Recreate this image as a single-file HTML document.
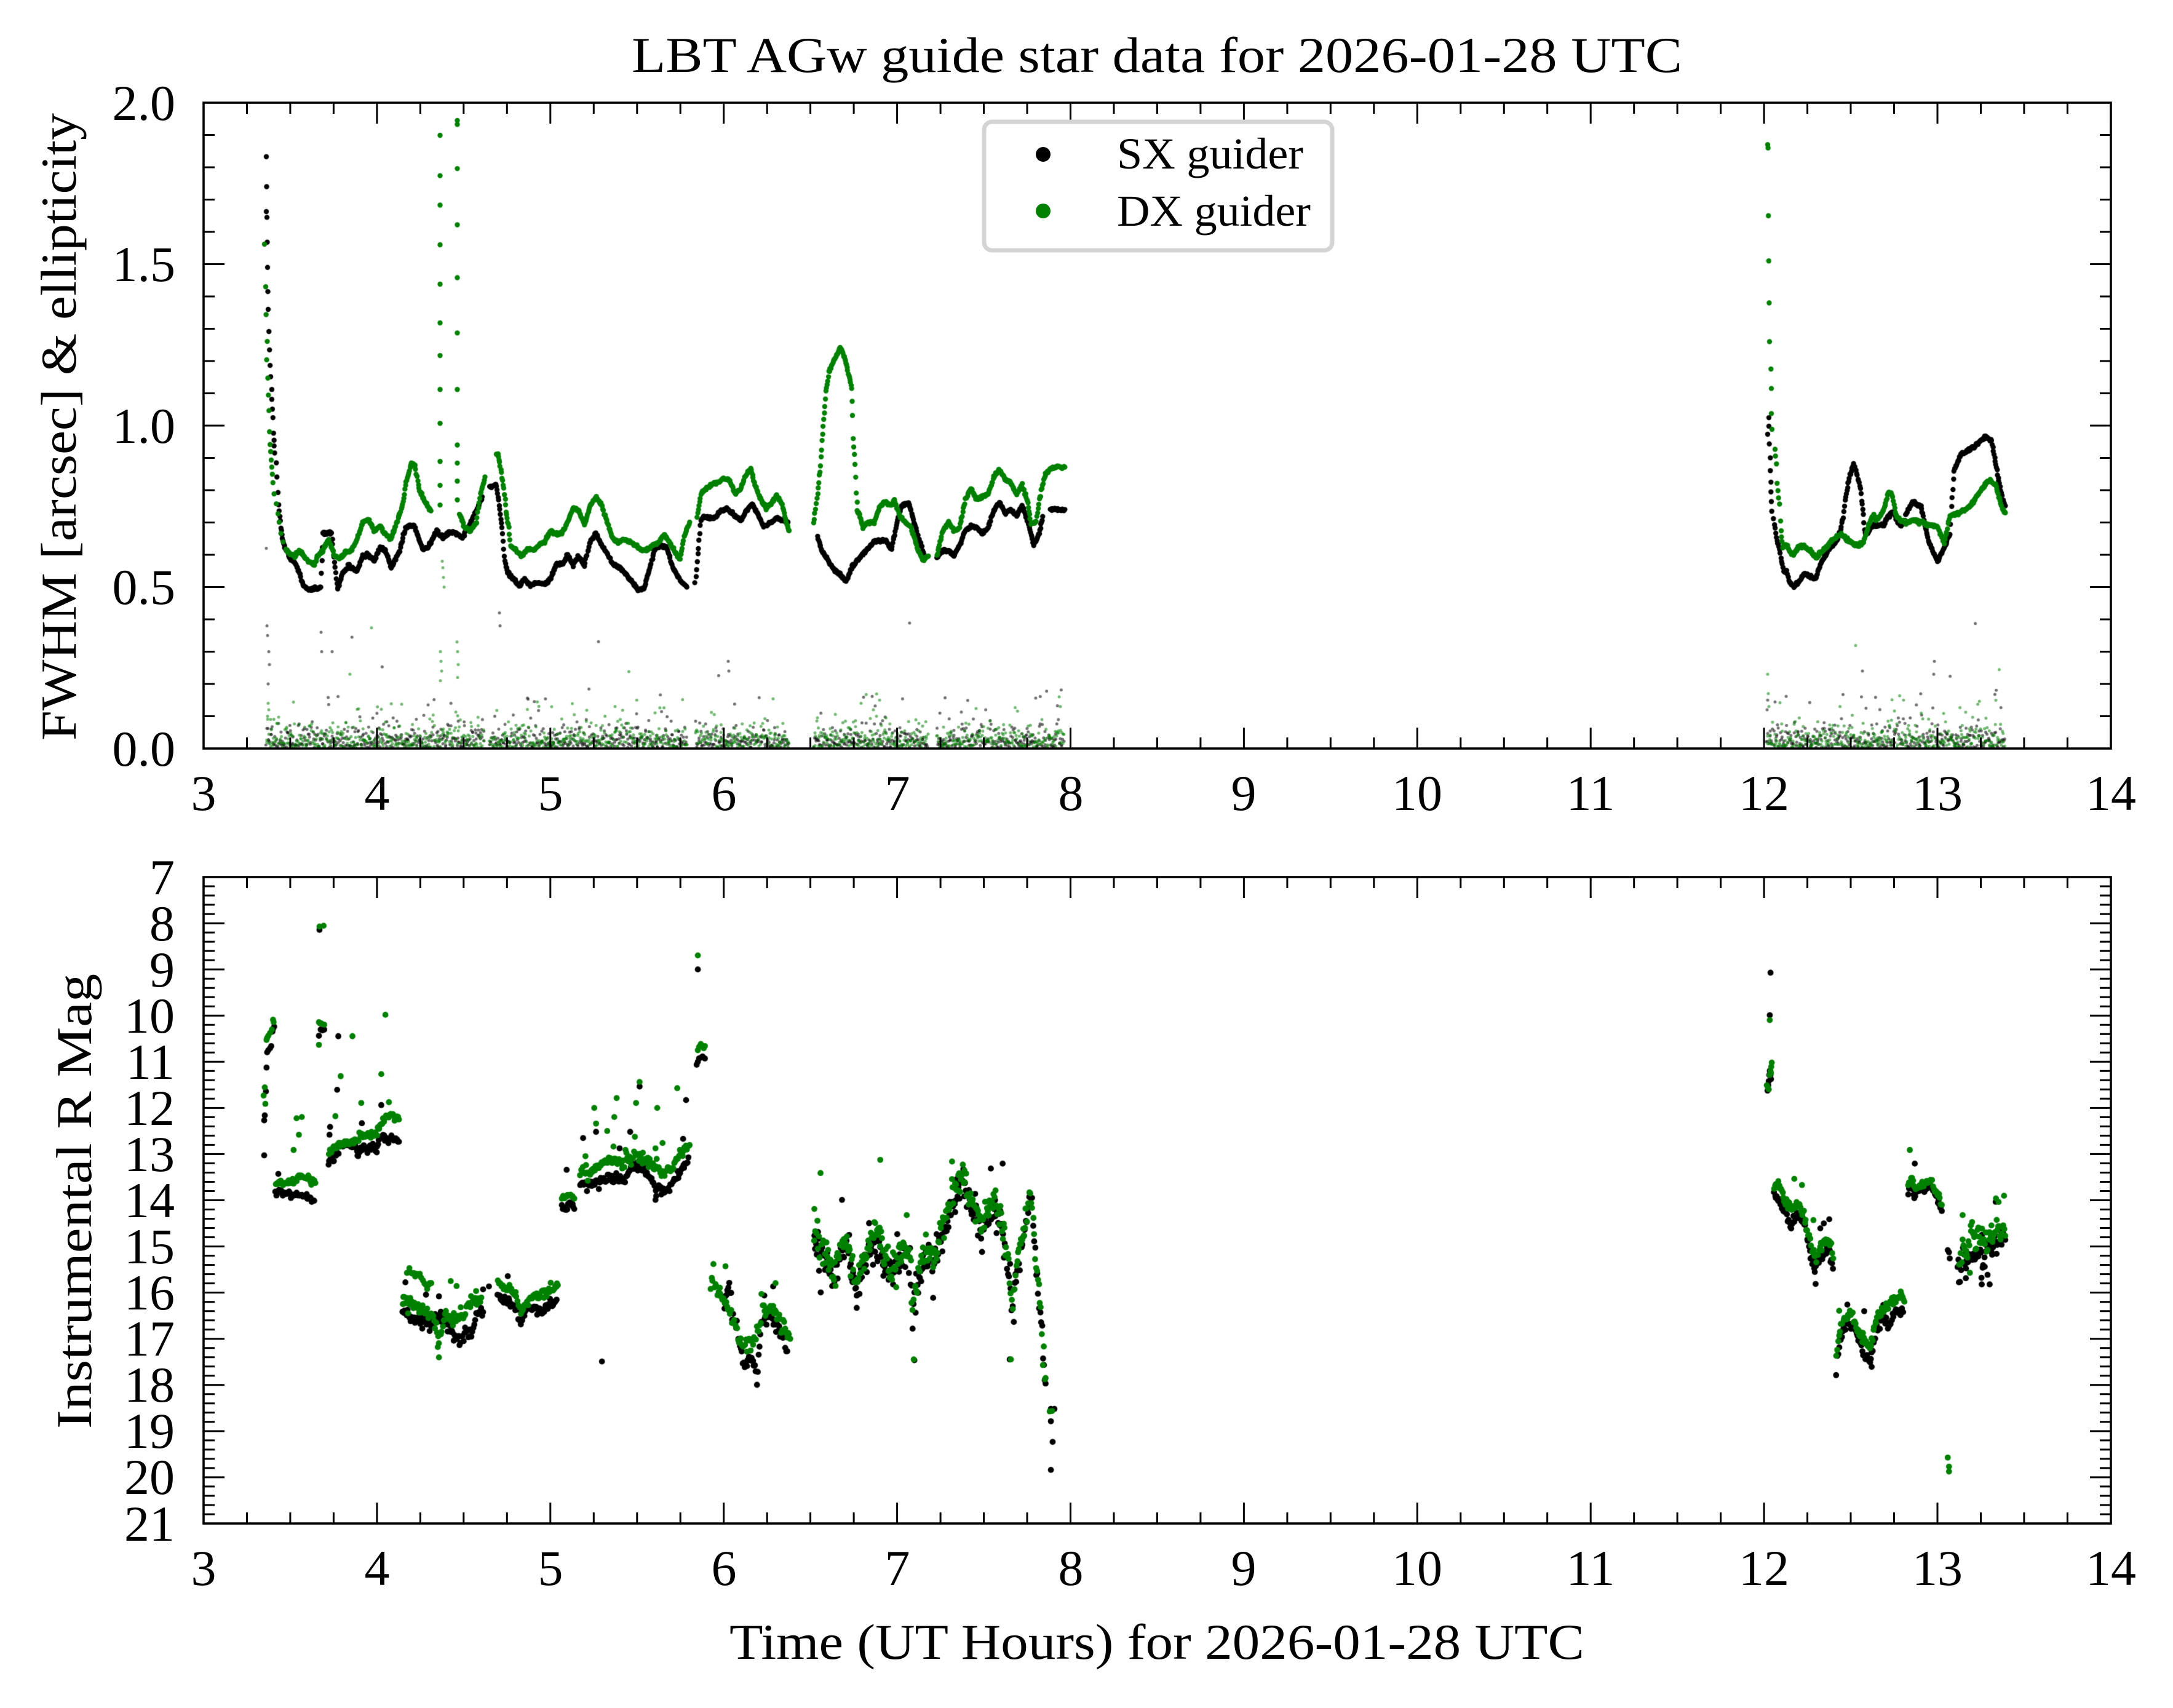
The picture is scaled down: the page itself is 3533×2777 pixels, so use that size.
<!DOCTYPE html>
<html><head><meta charset="utf-8">
<style>
html,body{margin:0;padding:0;background:#fff;}
#wrap{position:relative;width:3533px;height:2777px;overflow:hidden;background:#fff;}
#c,#s{position:absolute;left:0;top:0;}
text{font-family:"Liberation Serif","DejaVu Serif",serif;fill:#000;}
</style></head><body>
<div id="wrap">
<canvas id="c" width="3533" height="2777"></canvas>
<svg id="s" width="3533" height="2777" viewBox="0 0 3533 2777" xmlns="http://www.w3.org/2000/svg">
<rect x="331" y="167" width="3101" height="1050" fill="none" stroke="#000" stroke-width="3.6"/>
<rect x="331" y="1426" width="3101" height="1051" fill="none" stroke="#000" stroke-width="3.6"/>
<path id="tk" d="" stroke="#000" stroke-width="3" fill="none"/>
<text x="1881" y="117" font-size="82" text-anchor="middle" textLength="1708" lengthAdjust="spacingAndGlyphs">LBT AGw guide star data for 2026-01-28 UTC</text>
<g font-size="82" text-anchor="middle">
<text x="331" y="1317">3</text><text x="613" y="1317">4</text><text x="895" y="1317">5</text><text x="1177" y="1317">6</text><text x="1459" y="1317">7</text><text x="1741" y="1317">8</text><text x="2022" y="1317">9</text><text x="2304" y="1317">10</text><text x="2586" y="1317">11</text><text x="2868" y="1317">12</text><text x="3150" y="1317">13</text><text x="3432" y="1317">14</text>
<text x="331" y="2577">3</text><text x="613" y="2577">4</text><text x="895" y="2577">5</text><text x="1177" y="2577">6</text><text x="1459" y="2577">7</text><text x="1741" y="2577">8</text><text x="2022" y="2577">9</text><text x="2304" y="2577">10</text><text x="2586" y="2577">11</text><text x="2868" y="2577">12</text><text x="3150" y="2577">13</text><text x="3432" y="2577">14</text>
</g>
<g font-size="82" text-anchor="end">
<text x="285" y="1245">0.0</text><text x="285" y="982">0.5</text><text x="285" y="720">1.0</text><text x="285" y="457">1.5</text><text x="285" y="195">2.0</text>
<text x="284" y="1454">7</text><text x="284" y="1529">8</text><text x="284" y="1604">9</text><text x="284" y="1679">10</text><text x="284" y="1754">11</text><text x="284" y="1829">12</text><text x="284" y="1904">13</text><text x="284" y="1979">14</text><text x="284" y="2054">15</text><text x="284" y="2129">16</text><text x="284" y="2204">17</text><text x="284" y="2279">18</text><text x="284" y="2354">19</text><text x="284" y="2429">20</text><text x="284" y="2505">21</text>
</g>
<text font-size="82" text-anchor="middle" transform="translate(123,694) rotate(-90)" textLength="1020" lengthAdjust="spacingAndGlyphs">FWHM [arcsec] &amp; ellipticity</text>
<text font-size="82" text-anchor="middle" transform="translate(148,1953) rotate(-90)" textLength="740" lengthAdjust="spacingAndGlyphs">Instrumental R Mag</text>
<text x="1881" y="2697" font-size="82" text-anchor="middle" textLength="1390" lengthAdjust="spacingAndGlyphs">Time (UT Hours) for 2026-01-28 UTC</text>
<rect x="1600" y="198" width="566" height="209" rx="13" ry="13" fill="#fff" fill-opacity="0.85" stroke="#d4d4d4" stroke-width="7"/>
<circle cx="1696" cy="251" r="12" fill="#000"/>
<circle cx="1696" cy="343" r="12" fill="#008000"/>
<text x="1816" y="274" font-size="72" textLength="303" lengthAdjust="spacingAndGlyphs">SX guider</text>
<text x="1816" y="367" font-size="72" textLength="315" lengthAdjust="spacingAndGlyphs">DX guider</text>
</svg>
</div>
<script>
(function(){
var cv=document.getElementById('c'),ctx=cv.getContext('2d');
var sd=20260128;
function R(){sd|=0;sd=sd+0x6D2B79F5|0;var t=Math.imul(sd^sd>>>15,1|sd);t=t+Math.imul(t^t>>>7,61|t)^t;return((t^t>>>14)>>>0)/4294967296;}
function G(){var u=R()||1e-9,v=R();return Math.sqrt(-2*Math.log(u))*Math.cos(6.283185*v);}
function z7(p){return [331+p[0]*0.9243,500+p[1]*0.4592];}
function z8(p){return [2650+p[0]/3,600+p[1]/2.529];}
function z9(p){return [331+p[0]/1.0453,1426+p[1]*0.6703];}
function z10(p){return [2800+p[0]/2.481,1426+p[1]*0.6703];}
function dd(p){return [p[0]*2.2532,p[1]*2.2532];}
function ln(arr,f,step,sig,list,off,tail){off=off||0;var P=arr.map(f);for(var i=0;i<P.length-1;i++){var a=P[i],b=P[i+1];var dx=b[0]-a[0];var n=Math.max(1,Math.round(Math.abs(dx)/step));for(var j=0;j<n;j++){var t=j/n;var s=sig;if(tail&&R()<tail)s=sig*2.6;list.push([a[0]+dx*t+G()*0.3,a[1]+(b[1]-a[1])*t+off+G()*s]);}}var e=P[P.length-1];list.push([e[0],e[1]+off]);}
function pp(arr,f,list){arr.forEach(function(p){list.push(f(p));});}
var TB=[],TG=[],EB=[],EG=[],BB=[],BG=[];
// ---- top panel FWHM black
[[433,1.833],[433.5,1.74],[433,1.663],[434,1.645],[434.5,1.568],[435,1.49],[435.5,1.415],[436,1.36]].forEach(function(p){TB.push([p[0],1217-p[1]*525]);});
pp([[115,85],[116,150],[117,205],[118,245],[120,290],[120,325],[121,360],[122,390],[123,445],[124,470],[124,490],[125,515],[128,550],[129,600],[131,655]],z7,TB);
ln([[132,695],[135,760],[140,830],[150,880],[165,920],[175,980],[185,1000],[200,995],[206,990],[210,800],[225,800],[230,900],[235,1000],[245,940],[255,915],[270,935],[280,880],[290,875],[300,900],[310,850],[320,860],[330,920],[345,860],[355,780],[370,770],[385,855],[395,850],[410,790],[420,815],[435,795],[445,800],[455,815],[465,780],[480,720],[490,670]],z7,1,1.2,TB);
ln([[503,635],[515,630],[520,700],[525,780],[530,900],[535,940],[545,960],[555,985],[565,960],[575,985],[585,975],[600,980],[610,960],[620,910],[632,910],[640,875],[650,910],[660,880],[670,915],[680,830],[690,800],[700,840],[710,870],[720,910],[735,925],[745,950],[755,975],[765,1000],[775,995],[785,920],[795,850],[805,845],[815,850],[825,920],[840,970],[850,990]],z7,1,1.2,TB);
ln([[865,975],[875,750],[880,740],[890,745],[900,745],[910,720],[920,710],[930,730],[945,755],[955,720],[965,695],[975,730],[985,775],[995,765],[1010,745],[1020,755],[1028,760]],z7,1,1.2,TB);
ln([[1080,815],[1090,870],[1100,900],[1110,930],[1120,945],[1130,970],[1140,920],[1150,895],[1160,870],[1170,850],[1180,830],[1190,825],[1200,825],[1210,855],[1220,760],[1228,700],[1240,690],[1250,760],[1260,830],[1268,880]],z7,1,1.2,TB);
ln([[1290,885],[1300,860],[1310,860],[1320,880],[1330,840],[1340,790],[1350,775],[1360,780],[1370,800],[1380,780],[1390,720],[1400,690],[1410,730],[1420,715],[1430,740],[1440,700],[1450,760],[1460,840],[1470,800],[1476,740]],z7,1,1.2,TB);
ln([[1490,715],[1515,715]],z7,1,1.0,TB);
pp([[678,200],[678,235],[672,268],[680,308],[685,365],[685,418],[688,465],[688,505],[690,545],[692,585],[700,615]],z8,TB);
ln([[705,635],[712,675],[718,705],[730,740],[740,790],[750,835],[765,825],[775,870],[785,885],[800,895],[815,880],[830,870],[845,845],[860,845],[880,855],[905,860],[920,830],[935,790],[955,765],[970,740],[990,725],[1010,705],[1025,670],[1040,610],[1050,540],[1065,470],[1080,420],[1090,390],[1100,410],[1115,460],[1125,490],[1130,540],[1138,600],[1145,660],[1150,680],[1165,670],[1180,645],[1200,645],[1220,640],[1240,640],[1255,610],[1270,600],[1285,585],[1300,620],[1320,640],[1345,625]],z8,1,1.2,TB);
ln([[1375,372],[1380,362],[1386,365],[1392,392],[1398,405],[1403,395],[1407,385],[1410,340],[1415,328],[1425,322],[1433,315],[1437,318],[1441,340],[1445,360],[1447,365]],dd,1,1.2,TB);
// ---- top panel FWHM green
[[430,1.562],[432,1.43]].forEach(function(p){TG.push([p[0],1217-p[1]*525]);});
pp([[110,25],[112,120],[111,185],[113,250],[114,310],[115,365],[116,440],[117,485],[118,510],[119,540],[120,565],[121,590],[122,620],[124,660],[128,695],[131,730],[133,760],[136,800],[140,830]],z7,TG);
ln([[145,855],[150,870],[160,880],[170,860],[178,885],[185,900],[195,910],[200,880],[210,860],[220,820],[230,880],[240,890],[250,865],[260,860],[270,820],[280,760],[290,750],[300,790],[310,775],[320,800],[330,820],[340,760],[350,700],[355,630],[365,550],[372,560],[380,650],[390,690],[400,720]],z7,1,1.2,TG);
[1.899,1.774,1.683,1.56,1.438,1.318,1.217,1.112,1.007,0.889,0.815,0.754].forEach(function(v){TG.push([715.5,1217-v*525]);});
[1.945,1.933,1.796,1.622,1.458,1.287,1.112,0.94,0.884,0.828,0.77].forEach(function(v){TG.push([743.5,1217-v*525]);});
ln([[450,730],[460,780],[470,790],[480,760],[487,660],[495,600]],z7,1,1.2,TG);
ln([[515,520],[518,520],[522,560],[528,640],[532,720],[537,780],[540,845],[550,860],[560,880],[570,855],[580,860],[590,840],[600,830],[610,790],[620,800],[630,800],[640,760],[650,710],[660,720],[670,770],[680,700],[690,670],[700,700],[710,760],[720,820],[730,830],[740,820],[750,830],[760,840],[770,860],[780,860],[790,840],[800,830],[810,805],[820,830],[830,870],[838,890],[845,810],[855,760]],z7,1,1.2,TG);
ln([[868,740],[875,660],[885,640],[895,625],[905,620],[915,605],[925,610],[935,660],[945,640],[955,590],[962,570],[970,630],[980,680],[990,710],[1000,690],[1008,665],[1018,700],[1025,760],[1030,790]],z7,1,1.2,TG);
ln([[1073,765],[1080,660],[1085,560],[1090,420],[1095,300],[1100,230],[1108,190],[1115,165],[1120,140],[1128,180],[1133,220],[1138,265],[1140,290],[1142,380],[1143,460],[1145,520],[1147,600],[1148,660],[1150,720],[1155,740],[1160,780],[1170,760],[1180,760],[1190,700],[1200,690],[1210,700],[1215,680],[1225,740],[1235,760],[1245,780],[1255,850],[1265,895],[1275,880]],z7,1,1.2,TG);
ln([[1290,880],[1300,790],[1310,760],[1320,790],[1330,780],[1340,680],[1350,640],[1360,680],[1370,670],[1380,660],[1390,600],[1400,570],[1410,610],[1420,620],[1430,660],[1440,630],[1450,690],[1455,765],[1465,760],[1470,680],[1480,590],[1490,570],[1500,565],[1515,565]],z7,1,1.2,TG);
[1.87,1.86,1.65,1.51,1.38,1.26].forEach(function(v,i){TG.push([2874+i*0.6,1217-v*525]);});
pp([[688,0],[690,80],[690,183],[693,248],[708,330],[710,358],[715,390],[718,470],[722,500],[725,530],[730,555],[735,625],[738,665]],z8,TG);
ln([[740,690],[745,730],[765,725],[780,750],[800,765],[815,740],[830,730],[850,730],[870,740],[890,760],[910,780],[925,760],[940,745],[960,730],[980,710],[1000,695],[1025,680],[1040,685],[1060,700],[1080,715],[1100,725],[1120,725],[1140,710],[1155,670],[1170,630],[1190,600],[1200,620],[1215,610],[1230,595],[1245,560],[1260,510],[1275,510],[1285,540],[1295,590],[1310,615],[1330,625],[1345,625]],z8,1,1.2,TG);
ln([[1375,378],[1380,375],[1390,378],[1398,380],[1403,392],[1407,372],[1413,370],[1420,367],[1428,356],[1435,346],[1440,350],[1445,368],[1447,370]],dd,1,1.2,TG);
// ---- ellipticity
function ell(x0,x1,list,m){for(var x=x0;x<x1;x+=1.15){var v=0.003+Math.abs(G())*0.034*m;var r=R();if(r<0.035)v=0.07+R()*0.1;else if(r<0.041)v=0.15+R()*0.25;list.push([x+G()*0.6,1217-v*525]);}}
var rng=[[433,788],[796,1117],[1131,1283],[1323,1509],[1523,1731],[2873,3260]];
rng.forEach(function(r){ell(r[0],r[1],EB,1.0);ell(r[0],r[1],EG,1.05);});
[[436,0.14],[437,0.12],[435,0.1],[440,0.09],[1000,0.13],[1420,0.12],[1430,0.15],[1425,0.1],[1722,0.16],[1724,0.13],[2874,0.23],[2875,0.17],[2876,0.13],[716,0.3],[717,0.27],[718,0.24],[716,0.21],[743,0.33],[744,0.3],[745,0.26],[744,0.22],[720,0.56],[721,0.53],[722,0.5],[719,0.58],[1400,0.14]].forEach(function(p){EG.push([p[0],1217-p[1]*525]);});
[[433,0.62],[434,0.38],[435,0.35],[437,0.3],[438,0.26],[436,0.2],[522,0.36],[523,0.3],[1184,0.27],[1185,0.24],[2874,0.15],[2873,0.12],[3144,0.23],[3145,0.27],[812,0.42],[813,0.38],[540,0.3]].forEach(function(p){EB.push([p[0],1217-p[1]*525]);});
// ---- bottom panel black
pp([[103,675],[103,590],[104,578],[106,520],[107,462],[108,425],[110,420],[113,415],[115,410],[117,375],[120,363],[118,368]],z9,BB);
ln([[122,765],[130,765],[140,768],[150,768],[160,770],[170,772],[180,778],[188,785]],z9,1.5,2.5,BB);BB.push(z9([127,720]));
pp([[197,128],[196,385],[199,370],[202,372],[205,370]],z9,BB);
ln([[212,690],[220,685],[228,670],[235,650],[240,650],[250,650],[258,652],[262,675],[268,660],[280,658],[295,658],[300,628],[310,630],[322,635],[332,642]],z9,1.5,3,BB);
pp([[215,606],[214,625],[227,516],[229,386],[269,597],[302,553]],z9,BB);
ln([[338,1050],[345,1060],[355,1075],[370,1078],[385,1090],[395,1075],[405,1070],[415,1080],[425,1110],[435,1125],[445,1100],[455,1110],[465,1060],[475,1055]],z9,1.5,5,BB,0,0.1);
pp([[343,983],[378,1013],[400,1017],[475,1000],[485,993]],z9,BB);
ln([[500,1010],[510,1030],[520,1030],[530,1040],[540,1085],[548,1050],[555,1040],[565,1050],[575,1060],[585,1040],[600,1025]],z9,1.5,4,BB);
pp([[517,968],[677,1175]],z9,BB);
ln([[609,800],[615,810],[620,790],[630,805]],z9,1.5,3,BB);
ln([[640,742],[650,748],[660,745],[670,740],[680,738],[690,730],[700,732],[710,725],[715,745],[720,720],[730,705],[740,705],[750,712],[755,720],[765,740],[770,760],[775,750],[780,760],[790,755],[800,740],[810,720],[815,700],[824,680]],z9,1.5,4,BB,0,0.08);
pp([[617,710],[645,633],[667,618],[707,658],[725,618],[741,508],[820,541],[815,635],[768,783]],z9,BB);
pp([[840,224],[838,455],[840,448],[842,440],[845,438],[848,435],[852,440]],z9,BB);
ln([[885,1045],[890,1010],[895,1000],[900,1060],[910,1120],[918,1185],[925,1180],[930,1150],[935,1190],[940,1220],[945,1150],[950,1080],[960,1070],[970,1080],[975,1090],[985,1120],[992,1150]],z9,1.5,6,BB,0,0.1);
pp([[968,993],[953,1015]],z9,BB);
var K=[[1038,860],[1050,900],[1060,920],[1070,960],[1080,900],[1090,880],[1100,920],[1110,990],[1120,930],[1130,900],[1140,860],[1150,880],[1160,930],[1170,960],[1180,920],[1190,890],[1200,920],[1205,1060],[1210,1000],[1220,940],[1230,900],[1240,930],[1250,880],[1260,830],[1270,790],[1280,740],[1290,725],[1300,760],[1310,810],[1320,840],[1330,820],[1340,780],[1350,820],[1360,860],[1370,960],[1375,1060],[1380,960],[1390,880],[1400,800],[1405,760],[1410,820],[1415,950],[1420,1020],[1425,1100],[1428,1180],[1431,1215]];
ln(K,z9,1.4,13,BB,9,0.1);
pp([[1085,783],[1338,707],[1358,695],[1208,1172],[1370,1170],[1046,955],[1110,1045]],z9,BB);
pp([[1440,1290],[1440,1320],[1443,1370],[1440,1438],[1446,1290]],z9,BB);
pp([[195,232],[192,335],[183,518],[186,505],[188,495],[192,470],[195,480],[197,490],[190,480]],z10,BB);
ln([[210,770],[220,780],[230,790],[245,800],[260,820],[275,845],[290,830],[305,820],[320,830],[335,845],[350,900],[360,930],[375,955],[385,935],[400,920],[415,910],[430,905],[447,950]],z10,1.5,4,BB);
pp([[377,987],[396,852],[410,840],[432,830]],z10,BB);
ln([[460,1205],[465,1170],[475,1125],[490,1100],[505,1080],[520,1085],[535,1100],[550,1120],[565,1150],[580,1160],[600,1170],[610,1130],[620,1100],[635,1080],[650,1070],[665,1090],[680,1080],[695,1060],[710,1050],[730,1055]],z10,1.5,4,BB);
pp([[505,1037],[573,1053],[603,1188],[650,1038]],z10,BB);
ln([[750,765],[760,745],[775,775],[790,760],[805,755],[820,755],[835,745],[850,760],[865,775],[880,800],[886,810]],z10,1.5,3,BB);
pp([[777,695],[910,905],[918,925],[915,910]],z10,BB);
ln([[950,960],[970,930],[990,920],[1010,920],[1030,910],[1050,920],[1070,900],[1090,900],[1110,885],[1130,880],[1142,880]],z10,1.4,11,BB,0,0.1);
pp([[955,983],[983,973],[1047,988],[1079,988],[1046,972]],z10,BB);
// ---- bottom panel green
pp([[102,530],[104,510],[105,550],[107,395],[108,390],[110,385],[113,378],[116,370],[118,346],[119,352]],z9,BG);
ln([[123,740],[135,742],[145,742],[155,735],[165,725],[175,730],[185,738],[190,742]],z9,1.5,2.5,BG);
pp([[153,662],[158,585],[162,625],[167,582]],z9,BG);
pp([[197,120],[204,118],[196,352],[198,355],[200,355],[205,358],[196,407]],z9,BG);
ln([[213,668],[220,660],[230,650],[240,645],[250,645],[262,635],[270,628],[285,625],[295,625],[300,600],[310,580],[320,578],[332,588]],z9,1.5,3,BG);
pp([[224,580],[233,483],[253,386],[268,548],[302,478],[309,334],[315,546]],z9,BG);
ln([[338,1020],[350,1030],[360,1040],[375,1050],[385,1060],[395,1080],[400,1130],[405,1100],[410,1060],[420,1070],[430,1075],[440,1060],[450,1040],[460,1030],[472,1020]],z9,1.5,5,BG,0,0.1);
ln([[345,965],[350,955],[360,965],[370,970],[380,995],[387,985]],z9,2.5,3,BG);
pp([[400,1165],[420,980],[430,992],[398,1140]],z9,BG);
ln([[500,985],[510,995],[520,1000],[530,1010],[540,1060],[550,1030],[560,1015],[570,1020],[580,1010],[590,1000],[602,990]],z9,1.5,4,BG);
ln([[609,780],[620,770],[630,780]],z9,1.5,3,BG);
ln([[640,715],[650,720],[660,705],[670,700],[680,695],[690,690],[700,688],[710,690],[720,680],[730,675],[740,670],[745,690],[755,690],[765,700],[775,710],[785,720],[795,710],[805,680],[815,660],[826,650]],z9,1.5,4,BG,0,0.08);
pp([[649,677],[664,560],[667,598],[686,616],[698,582],[702,536],[735,548],[741,497],[733,630],[771,560],[768,658],[805,512],[780,645]],z9,BG);
pp([[840,190],[840,420],[842,412],[845,405],[848,412],[850,415],[852,410]],z9,BG);
ln([[862,990],[865,957],[872,1000],[880,1015],[890,1040],[900,1070],[905,1100],[915,1130],[925,1130],[935,1120],[945,1090],[950,1050],[960,1050],[970,1050],[980,1080],[990,1100],[997,1120]],z9,1.5,6,BG,0,0.1);
pp([[972,985]],z9,BG);
ln(K,z9,1.4,12,BG,0,0.1);
pp([[1150,686],[1272,690],[1207,1170],[1372,1170],[1038,805],[1195,820]],z9,BG);
pp([[1438,1296],[1442,1295]],z9,BG);
pp([[192,347],[180,505],[184,510],[188,515],[195,470],[198,460],[200,450],[192,480],[197,475]],z10,BG);
ln([[210,745],[225,750],[240,765],[255,790],[270,805],[285,800],[300,795],[315,805],[330,815],[340,850],[355,880],[370,905],[380,930],[390,900],[410,890],[425,880],[440,890],[448,925]],z10,1.5,4,BG);
pp([[291,732],[322,747],[368,832]],z10,BG);
ln([[460,1170],[468,1120],[480,1090],[500,1070],[515,1060],[530,1070],[545,1095],[560,1115],[580,1130],[600,1140],[610,1100],[625,1065],[640,1055],[655,1050],[670,1040],[685,1025],[700,1020],[720,1015],[735,1030]],z10,1.5,4,BG);
pp([[472,1052]],z10,BG);
ln([[750,740],[765,730],[780,760],[795,750],[810,745],[825,735],[840,735],[855,750],[870,770],[886,795]],z10,1.5,3,BG);
pp([[757,662],[910,1408],[915,1430],[915,1442]],z10,BG);
ln([[955,935],[970,910],[990,900],[1010,880],[1030,880],[1050,890],[1070,880],[1090,860],[1110,850],[1130,860],[1142,870]],z10,1.4,10,BG,0,0.1);
pp([[970,820],[1115,788],[1137,773],[1003,845]],z10,BG);
// ---- draw
function draw(list,col,r,clip){ctx.save();ctx.beginPath();ctx.rect(clip[0],clip[1],clip[2],clip[3]);ctx.clip();ctx.fillStyle=col;for(var i=0;i<list.length;i++){ctx.beginPath();ctx.arc(list[i][0],list[i][1],r,0,6.2832);ctx.fill();}ctx.restore();}
var c1=[331,167,3101,1050],c2=[331,1426,3101,1051];
draw(TB,'#000',4.2,c1);
draw(EB,'rgba(0,0,0,0.55)',2.5,c1);
draw(TG,'#008000',4.2,c1);
draw(EG,'rgba(0,128,0,0.55)',2.5,c1);
draw(BB,'#000',4.9,c2);
draw(BG,'#008000',4.9,c2);
// ---- ticks
var d='';function tk(a,b,c,e){d+='M'+a.toFixed(1)+' '+b.toFixed(1)+'L'+c.toFixed(1)+' '+e.toFixed(1);}
var L=331,Rt=3432,MJ=34,MN=18;
[[167,1217],[1426,2477]].forEach(function(pn){for(var k=0;k<=44;k++){var x=331+k*281.9/4;var l=(k%4==0)?MJ:MN;tk(x,pn[1],x,pn[1]-l);tk(x,pn[0],x,pn[0]+l);}});
for(var k=0;k<=20;k++){var y=1217-k*52.5;var l=(k%5==0)?MJ:MN;tk(L,y,L+l,y);tk(Rt,y,Rt-l,y);}
for(var k=0;k<=70;k++){var y=1426+k*1051/70;var l=(k%5==0)?MJ:MN;tk(L,y,L+l,y);tk(Rt,y,Rt-l,y);}
document.getElementById('tk').setAttribute('d',d);
})();
</script>
</body></html>
